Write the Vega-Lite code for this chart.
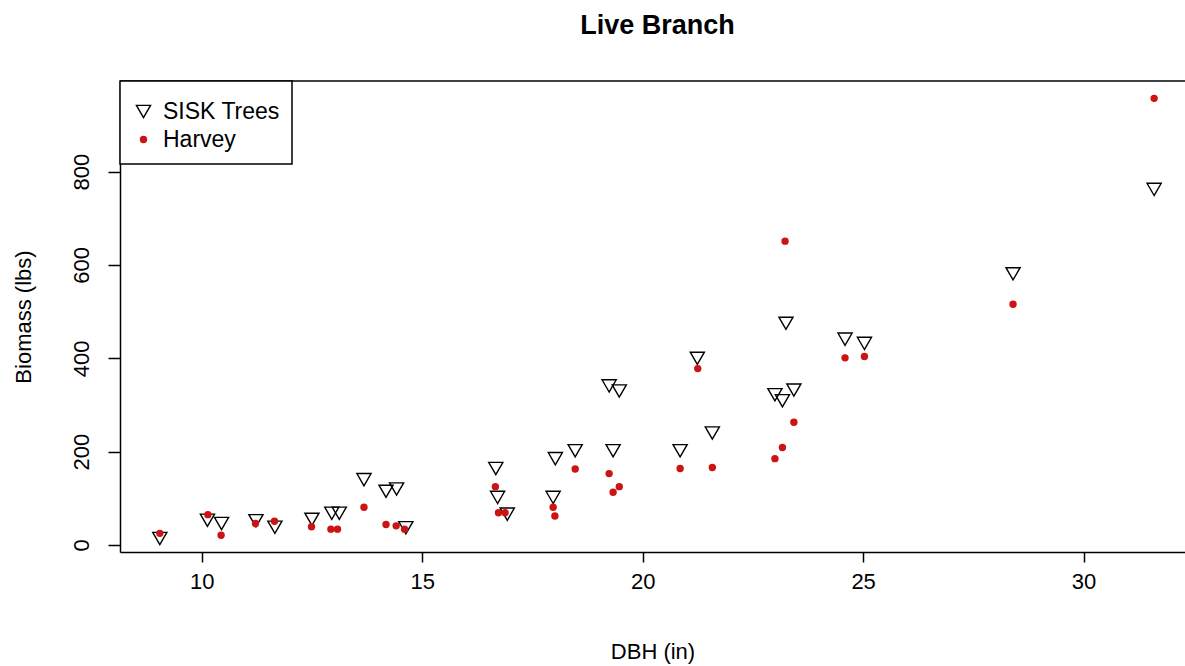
{
  "$schema": "https://vega.github.io/schema/vega-lite/v6.json",
  "width": 1065,
  "height": 471,
  "autosize": {"type": "none"},
  "padding": {"left": 120, "top": 81, "right": 0, "bottom": 114},
  "background": "white",
  "title": {"text": "Live Branch", "font": "Liberation Sans", "fontSize": 27, "fontWeight": "bold", "color": "black", "anchor": "middle", "offset": 40, "dx": 5},
  "config": {
    "view": {"stroke": null},
    "legend": {"orient": "top-left", "offset": 0, "padding": 12, "strokeColor": "black", "strokeWidth": 1.5, "fillColor": "white", "labelFont": "Liberation Sans", "labelFontSize": 23, "labelColor": "black", "rowPadding": 4, "labelOffset": 8, "symbolStrokeWidth": 1.4, "titleFontSize": 4, "titlePadding": 3, "titleColor": "white"}
  },
  "data": {"values": [
    {"dbh": 9.05, "biomass": 14, "series": "SISK Trees"},
    {"dbh": 10.13, "biomass": 53, "series": "SISK Trees"},
    {"dbh": 10.45, "biomass": 46, "series": "SISK Trees"},
    {"dbh": 11.23, "biomass": 52, "series": "SISK Trees"},
    {"dbh": 11.66, "biomass": 38, "series": "SISK Trees"},
    {"dbh": 12.5, "biomass": 55, "series": "SISK Trees"},
    {"dbh": 12.95, "biomass": 68, "series": "SISK Trees"},
    {"dbh": 13.12, "biomass": 68, "series": "SISK Trees"},
    {"dbh": 13.68, "biomass": 140, "series": "SISK Trees"},
    {"dbh": 14.18, "biomass": 115, "series": "SISK Trees"},
    {"dbh": 14.42, "biomass": 120, "series": "SISK Trees"},
    {"dbh": 14.63, "biomass": 37, "series": "SISK Trees"},
    {"dbh": 16.67, "biomass": 164, "series": "SISK Trees"},
    {"dbh": 16.71, "biomass": 102, "series": "SISK Trees"},
    {"dbh": 16.93, "biomass": 66, "series": "SISK Trees"},
    {"dbh": 17.97, "biomass": 102, "series": "SISK Trees"},
    {"dbh": 18.02, "biomass": 185, "series": "SISK Trees"},
    {"dbh": 18.47, "biomass": 202, "series": "SISK Trees"},
    {"dbh": 19.24, "biomass": 341, "series": "SISK Trees"},
    {"dbh": 19.47, "biomass": 330, "series": "SISK Trees"},
    {"dbh": 19.33, "biomass": 202, "series": "SISK Trees"},
    {"dbh": 20.85, "biomass": 202, "series": "SISK Trees"},
    {"dbh": 21.24, "biomass": 400, "series": "SISK Trees"},
    {"dbh": 21.58, "biomass": 240, "series": "SISK Trees"},
    {"dbh": 23.0, "biomass": 322, "series": "SISK Trees"},
    {"dbh": 23.17, "biomass": 309, "series": "SISK Trees"},
    {"dbh": 23.43, "biomass": 332, "series": "SISK Trees"},
    {"dbh": 23.25, "biomass": 475, "series": "SISK Trees"},
    {"dbh": 24.59, "biomass": 441, "series": "SISK Trees"},
    {"dbh": 25.03, "biomass": 432, "series": "SISK Trees"},
    {"dbh": 28.4, "biomass": 581, "series": "SISK Trees"},
    {"dbh": 31.6, "biomass": 762, "series": "SISK Trees"},
    {"dbh": 9.05, "biomass": 25, "series": "Harvey"},
    {"dbh": 10.14, "biomass": 65, "series": "Harvey"},
    {"dbh": 10.44, "biomass": 21, "series": "Harvey"},
    {"dbh": 11.22, "biomass": 46, "series": "Harvey"},
    {"dbh": 11.65, "biomass": 51, "series": "Harvey"},
    {"dbh": 12.49, "biomass": 39, "series": "Harvey"},
    {"dbh": 12.93, "biomass": 34, "series": "Harvey"},
    {"dbh": 13.08, "biomass": 34, "series": "Harvey"},
    {"dbh": 13.68, "biomass": 81, "series": "Harvey"},
    {"dbh": 14.18, "biomass": 44, "series": "Harvey"},
    {"dbh": 14.41, "biomass": 41, "series": "Harvey"},
    {"dbh": 14.6, "biomass": 34, "series": "Harvey"},
    {"dbh": 16.66, "biomass": 125, "series": "Harvey"},
    {"dbh": 16.73, "biomass": 69, "series": "Harvey"},
    {"dbh": 16.88, "biomass": 69, "series": "Harvey"},
    {"dbh": 17.97, "biomass": 81, "series": "Harvey"},
    {"dbh": 18.01, "biomass": 62, "series": "Harvey"},
    {"dbh": 18.47, "biomass": 163, "series": "Harvey"},
    {"dbh": 19.24, "biomass": 153, "series": "Harvey"},
    {"dbh": 19.47, "biomass": 125, "series": "Harvey"},
    {"dbh": 19.33, "biomass": 113, "series": "Harvey"},
    {"dbh": 20.85, "biomass": 164, "series": "Harvey"},
    {"dbh": 21.25, "biomass": 378, "series": "Harvey"},
    {"dbh": 21.58, "biomass": 166, "series": "Harvey"},
    {"dbh": 23.0, "biomass": 185, "series": "Harvey"},
    {"dbh": 23.17, "biomass": 209, "series": "Harvey"},
    {"dbh": 23.43, "biomass": 263, "series": "Harvey"},
    {"dbh": 23.23, "biomass": 651, "series": "Harvey"},
    {"dbh": 24.59, "biomass": 401, "series": "Harvey"},
    {"dbh": 25.03, "biomass": 404, "series": "Harvey"},
    {"dbh": 28.4, "biomass": 516, "series": "Harvey"},
    {"dbh": 31.6, "biomass": 957, "series": "Harvey"}
  ]},
  "layer": [
    {
      "mark": {"type": "point", "opacity": 1, "strokeWidth": 1.4},
      "encoding": {
        "x": {"field": "dbh", "type": "quantitative", "scale": {"domain": [8.147, 32.3], "nice": false, "zero": false},
          "axis": {"values": [10, 15, 20, 25, 30], "title": "DBH (in)", "grid": false, "tickSize": 10, "tickWidth": 1.5, "tickColor": "black", "domainColor": "black", "domainWidth": 1.5, "labelFont": "Liberation Sans", "labelFontSize": 22, "labelColor": "black", "labelPadding": 9, "titleFont": "Liberation Sans", "titleFontSize": 22, "titleFontWeight": "normal", "titleColor": "black", "titlePadding": 49}},
        "y": {"field": "biomass", "type": "quantitative", "scale": {"domain": [-15, 994.2], "nice": false, "zero": false},
          "axis": {"values": [0, 200, 400, 600, 800], "title": "Biomass (lbs)", "grid": false, "tickSize": 12, "tickWidth": 1.5, "tickColor": "black", "domainColor": "black", "domainWidth": 1.5, "labelFont": "Liberation Sans", "labelFontSize": 22, "labelColor": "black", "labelAngle": -90, "labelAlign": "center", "labelBaseline": "alphabetic", "labelPadding": 20, "titleFont": "Liberation Sans", "titleFontSize": 22, "titleFontWeight": "normal", "titleColor": "black", "titlePadding": 35}},
        "shape": {"field": "series", "type": "nominal", "scale": {"domain": ["SISK Trees", "Harvey"], "range": ["triangle-down", "circle"]}, "legend": {"title": " "}},
        "stroke": {"field": "series", "type": "nominal", "scale": {"domain": ["SISK Trees", "Harvey"], "range": ["black", "#cc1414"]}, "legend": {"title": " "}},
        "fill": {"field": "series", "type": "nominal", "scale": {"domain": ["SISK Trees", "Harvey"], "range": ["transparent", "#cc1414"]}, "legend": {"title": " "}},
        "size": {"field": "series", "type": "nominal", "scale": {"domain": ["SISK Trees", "Harvey"], "range": [200, 36]}, "legend": {"title": " "}}
      }
    },
    {
      "data": {"values": [{}]},
      "mark": {"type": "rule", "color": "black", "strokeWidth": 1.5},
      "encoding": {"y": {"datum": 994.2, "type": "quantitative"}}
    }
  ]
}
